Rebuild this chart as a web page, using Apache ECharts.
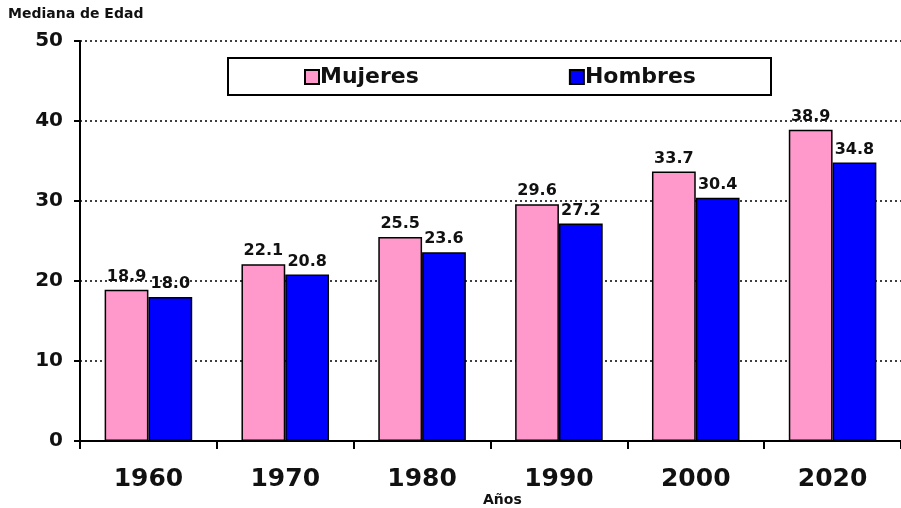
<!DOCTYPE html>
<html><head><meta charset="utf-8">
<script src="https://cdn.jsdelivr.net/npm/echarts@6/dist/echarts.min.js"></script>
<style>html,body{margin:0;padding:0;background:#fff}#c{width:901px;height:508px}</style>
</head><body><div id="c"></div>
<script>
var categories = ['1960','1970','1980','1990','2000','2020'];
var mujeres = [18.9, 22.1, 25.5, 29.6, 33.7, 38.9];
var hombres = [18.0, 20.8, 23.6, 27.2, 30.4, 34.8];
var seriesNames = ['Mujeres','Hombres'];
var yAxisTitle = 'Mediana de Edad';
var xAxisTitle = 'Años';

var FONT = '"DejaVu Sans", Verdana, sans-serif';
var chart = echarts.init(document.getElementById('c'), null, {renderer:'canvas'});
var labelStyle = {show:true, position:'top', distance:5, color:'#111', fontFamily:FONT, fontWeight:'bold', fontSize:16,
  formatter:function(p){return p.value.toFixed(1);}};
chart.setOption({
  animation:false,
  backgroundColor:'#fff',
  grid:{left:80, top:41, bottom:67, right:-6, containLabel:false},
  graphic:[
    {type:'rect', left:227, top:57, shape:{width:543, height:37}, style:{fill:'#fff', stroke:'#000', lineWidth:2}, z:1},
    {type:'text', left:8, top:7, style:{text:yAxisTitle, font:'bold 14px '+FONT, fill:'#111'}},
    {type:'text', left:483, top:493, style:{text:xAxisTitle, font:'bold 14px '+FONT, fill:'#111'}}
  ],
  legend:{left:304, top:66, padding:0, itemWidth:14, itemHeight:14, itemGap:150, icon:'rect', z:5,
    textStyle:{fontFamily:FONT, fontWeight:'bold', fontSize:22, color:'#111', padding:[0,0,0,-4]},
    data:seriesNames},
  xAxis:{type:'category', data:categories,
    axisLine:{lineStyle:{color:'#000', width:2}},
    axisTick:{show:true, length:8, lineStyle:{color:'#000', width:2}},
    axisLabel:{fontFamily:FONT, fontWeight:'bold', fontSize:25, color:'#111', margin:26}},
  yAxis:{type:'value', min:0, max:50, interval:10,
    axisLine:{show:true, lineStyle:{color:'#000', width:2}},
    axisTick:{show:true, length:6, lineStyle:{color:'#000', width:2}},
    axisLabel:{fontFamily:FONT, fontWeight:'bold', fontSize:20, color:'#111', margin:17},
    splitLine:{show:true, lineStyle:{color:'#000', type:[2,3], width:1.5}}},
  series:[
    {name:seriesNames[0], type:'bar', data:mujeres, barWidth:'32%', barGap:'0%',
      itemStyle:{color:'#FF99CC', borderColor:'#000', borderWidth:1.5}, label:labelStyle},
    {name:seriesNames[1], type:'bar', data:hombres, barWidth:'32%', barGap:'0%',
      itemStyle:{color:'#0000FF', borderColor:'#000', borderWidth:1.5}, label:labelStyle}
  ]
});
</script></body></html>
